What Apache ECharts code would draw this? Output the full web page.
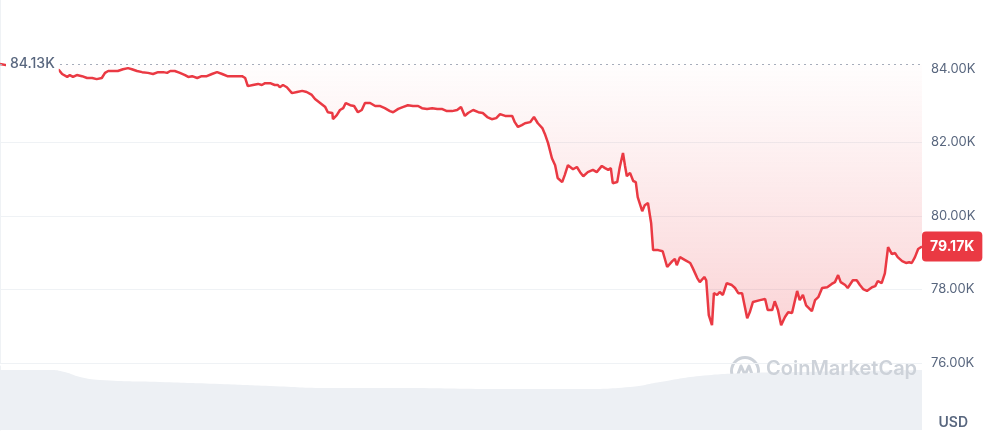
<!DOCTYPE html>
<html>
<head>
<meta charset="utf-8">
<script src="https://cdn.jsdelivr.net/npm/echarts@6/dist/echarts.min.js"></script>
<style>
html,body{margin:0;padding:0;background:#fff;}
#chart{width:992px;height:432px;}
</style>
</head>
<body>
<div id="chart"></div>
<script>
// minutes since start of the 24h window
const times = [0,16,39,62,81,92,97,105,109,114,120,128,136,137,144,151,159,164,169,176,184,192,200,206,214,222,231,239,247,255,261,266,273,281,289,294,300,308,315,323,331,339,347,355,364,378,383,387,395,403,409,414,422,429,434,437,442,448,456,464,472,479,487,492,500,508,512,519,520,526,531,536,540,547,553,559,565,570,578,586,593,601,609,614,622,629,637,645,653,659,667,675,683,690,698,706,714,720,726,731,739,747,754,761,768,775,781,789,800,804,809,815,820,828,834,840,847,851,856,862,867,871,878,882,887,895,901,906,911,918,926,932,940,945,950,954,957,964,968,973,976,979,984,989,993,996,1003,1007,1012,1017,1020,1028,1035,1042,1050,1054,1057,1062,1070,1078,1082,1089,1093,1100,1103,1107,1112,1115,1120,1124,1129,1135,1143,1148,1153,1159,1167,1171,1176,1187,1195,1199,1206,1210,1215,1220,1226,1231,1237,1245,1249,1254,1259,1262,1268,1273,1278,1284,1292,1299,1304,1309,1313,1320,1324,1332,1338,1343,1348,1354,1362,1367,1371,1377,1382,1387,1393,1398,1402,1409,1415,1420,1424,1429,1434,1440];
// BTC price, USD
const prices = [84130,84080,84050,84020,83990,83970,83860,83780,83830,83780,83830,83800,83750,83800,83750,83720,83750,83890,83940,83940,83940,83990,84020,83990,83940,83910,83890,83860,83910,83910,83890,83940,83940,83890,83830,83780,83800,83750,83800,83800,83860,83910,83860,83800,83800,83800,83750,83530,83560,83590,83560,83610,83610,83560,83560,83500,83560,83500,83340,83370,83400,83370,83290,83180,83070,82960,82820,82800,82630,82740,82880,82930,83070,83010,82990,82820,82880,83070,83070,82990,82990,82930,82850,82820,82910,82960,83010,82990,82990,82930,82910,82930,82910,82910,82850,82850,82880,82960,82720,82800,82880,82820,82800,82690,82630,82660,82770,82720,82720,82550,82420,82470,82520,82550,82690,82520,82390,82230,81980,81570,81380,81030,80920,81110,81380,81270,81330,81190,81080,81190,81250,81190,81360,81300,81250,81300,80890,80920,81330,81710,81380,81080,81170,80950,80920,80510,80130,80290,80350,79800,79070,79070,79040,78610,78770,78830,78660,78880,78800,78720,78580,78310,78200,78340,78250,77300,77030,77900,77850,77930,77850,78170,78120,78040,77900,77900,77220,77380,77660,77710,77740,77440,77440,77680,77440,77030,77250,77380,77360,77960,77710,77850,77570,77550,77410,77710,77790,78040,78060,78150,78200,78390,78200,78120,78040,78250,78250,78120,78010,77960,78060,78090,78230,78170,78440,79150,78960,78990,78880,78770,78720,78740,78720,78880,79100,79170];
// trading volume (relative units)
const volTimes = [0,78,101,125,156,250,344,422,515,625,781,906,984,1031,1093,1171,1249,1343,1440];
const volumes = [60,60,58,53,50,48,46,44,42,42,41,41,43,48,54,57,58,59,60];
// y axis ticks
const yTicks = [76000,78000,80000,82000,84000];

const openPrice = prices[0];
const lastPrice = prices[prices.length - 1];
const fmtK = v => (v / 1000).toFixed(2) + 'K';
const RED = '#ea3943';
const GRAY = '#58667e';
const GRID = '#eff2f5';

const chart = echarts.init(document.getElementById('chart'), null, {renderer: 'canvas'});
const lineData = times.map((t, i) => [t, prices[i]]);
const volData = volTimes.map((t, i) => [t, volumes[i]]);

chart.setOption({
  animation: false,
  textStyle: {fontFamily: 'Inter, "Noto Sans", sans-serif'},
  grid: [
    {left: 0, right: 70, top: 0, height: 363},
    {left: 0, right: 70, top: 366, bottom: 2}
  ],
  xAxis: [
    {type: 'value', gridIndex: 0, min: 0, max: 1440, show: false},
    {type: 'value', gridIndex: 1, min: 0, max: 1440, show: false}
  ],
  yAxis: [
    {
      type: 'value', gridIndex: 0, position: 'right',
      min: yTicks[0], max: 85872, interval: 2000,
      axisLine: {show: true, lineStyle: {color: GRID, width: 1}},
      axisTick: {show: false},
      axisLabel: {
        color: GRAY, fontSize: 13, margin: 9, showMaxLabel: false,
        formatter: v => (yTicks.indexOf(v) >= 0 ? fmtK(v) : '')
      },
      splitLine: {
        show: true, showMaxLine: false,
        lineStyle: {color: [GRID, GRID, GRID, GRID, 'rgba(0,0,0,0)', 'rgba(0,0,0,0)'], width: 1}
      }
    },
    {
      type: 'value', gridIndex: 1, position: 'right', min: 0, max: 64,
      axisLine: {show: true, lineStyle: {color: GRID, width: 1}},
      axisTick: {show: false}, axisLabel: {show: false}, splitLine: {show: false}
    }
  ],
  series: [
    {
      type: 'line', xAxisIndex: 1, yAxisIndex: 1, data: volData,
      smooth: true, showSymbol: false, silent: true,
      lineStyle: {width: 0},
      areaStyle: {color: '#edf0f4', opacity: 1}
    },
    {
      type: 'line', xAxisIndex: 0, yAxisIndex: 0, data: lineData,
      showSymbol: false, silent: true, z: 3,
      lineStyle: {color: RED, width: 2.5},
      areaStyle: {
        origin: openPrice,
        color: new echarts.graphic.LinearGradient(0, 0, 0, 1, [
          {offset: 0, color: 'rgba(234,57,67,0.01)'},
          {offset: 1, color: 'rgba(234,57,67,0.3)'}
        ])
      },
      markLine: {
        silent: true, symbol: ['none', 'none'], animation: false,
        data: [
          {
            yAxis: openPrice,
            lineStyle: {type: [2, 4], color: '#a6adbb', width: 1},
            label: {
              position: 'insideStartTop', distance: [6, 0], verticalAlign: 'middle',
              formatter: () => fmtK(openPrice),
              backgroundColor: '#ffffff', padding: [3, 4],
              color: GRAY, fontSize: 14, fontWeight: 500
            }
          },
          {
            yAxis: lastPrice,
            lineStyle: {color: 'rgba(0,0,0,0)', width: 0},
            label: {
              show: true, position: 'end', distance: 0,
              formatter: () => fmtK(lastPrice),
              backgroundColor: RED, color: '#ffffff', padding: [8, 8],
              borderRadius: 4, fontSize: 14, fontWeight: 'bold'
            }
          }
        ]
      }
    }
  ],
  graphic: [
    {
      type: 'text', right: 24, bottom: 2, z: 100,
      style: {text: 'USD', fill: GRAY, font: '600 14px Inter, sans-serif'}
    },
    {
      type: 'group', left: 729, top: 355, z: 100,
      children: [
        {type: 'circle', shape: {cx: 15, cy: 15, r: 13.5}, style: {fill: 'none', stroke: '#cdd2d9', lineWidth: 3}},
        {type: 'polyline', shape: {points: [[7, 21], [11, 10], [15, 19], [19, 10], [23, 21]]}, style: {fill: 'none', stroke: '#cdd2d9', lineWidth: 3, lineJoin: 'round', lineCap: 'round'}}
      ]
    },
    {
      type: 'text', left: 766, top: 359, z: 100,
      style: {text: 'CoinMarketCap', fill: '#cdd2d9', font: '600 20px Inter, sans-serif'}
    }
  ]
});
</script>
</body>
</html>
